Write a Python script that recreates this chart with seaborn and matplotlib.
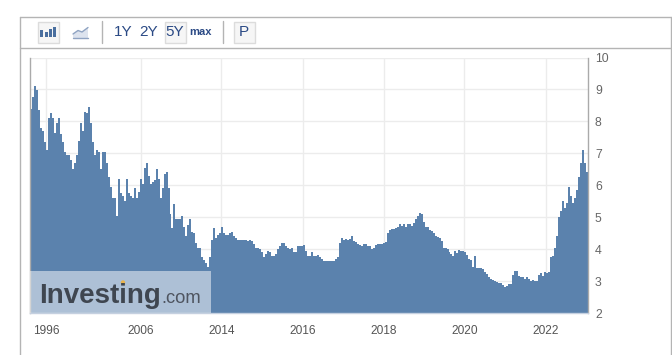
import matplotlib
matplotlib.use("Agg")
import matplotlib.pyplot as plt
import seaborn as sns
from matplotlib.patches import Rectangle, Circle, Polygon

############################################################
# DATA
############################################################
values = [
    8.4, 8.75, 9.1, 8.97, 8.35, 7.8, 7.7, 7.35, 7.1, 8.1,
    8.25, 8.1, 7.65, 7.95, 8.1, 7.6, 7.35, 7.05, 6.95, 6.95,
    6.8, 6.5, 6.7, 6.95, 7.4, 7.95, 7.7, 8.3, 8.25, 8.45,
    7.95, 7.35, 6.95, 7.1, 7.05, 6.5, 7.05, 7.05, 6.7, 6.25,
    5.95, 5.6, 5.6, 5.05, 6.2, 5.75, 5.65, 5.5, 6.2, 5.75,
    5.65, 5.6, 5.9, 5.6, 5.8, 6.2, 6.05, 6.55, 6.7, 6.3,
    6.05, 6.1, 6.15, 6.5, 6.2, 5.6, 5.9, 6.35, 6.4, 5.9,
    5.1, 4.65, 5.4, 4.95, 4.95, 4.95, 5.05, 4.7, 4.4, 4.75,
    4.95, 4.55, 4.5, 4.2, 4.05, 4.05, 3.75, 3.65, 3.55, 3.45,
    3.75, 4.3, 4.65, 4.35, 4.45, 4.5, 4.7, 4.5, 4.45, 4.45,
    4.5, 4.55, 4.4, 4.35, 4.3, 4.3, 4.28, 4.28, 4.28, 4.25,
    4.3, 4.25, 4.15, 4.05, 4.05, 4.0, 3.9, 3.75, 3.85, 3.95,
    3.9, 3.8, 3.78, 3.85, 4.0, 4.1, 4.2, 4.2, 4.1, 4.05,
    4.0, 4.05, 3.9, 3.9, 4.1, 4.1, 4.1, 4.12, 3.95, 3.8,
    3.78, 3.9, 3.78, 3.78, 3.82, 3.75, 3.7, 3.63, 3.62, 3.62,
    3.62, 3.62, 3.62, 3.68, 3.75, 4.18, 4.35, 4.3, 4.33, 4.28,
    4.33, 4.4, 4.25, 4.22, 4.15, 4.12, 4.1, 4.15, 4.15, 4.1,
    4.1, 4.0, 4.05, 4.12, 4.15, 4.15, 4.15, 4.18, 4.22, 4.5,
    4.6, 4.62, 4.62, 4.65, 4.7, 4.78, 4.72, 4.78, 4.7, 4.8,
    4.78, 4.72, 4.82, 4.95, 5.05, 5.12, 5.1, 4.85, 4.7, 4.68,
    4.6, 4.58, 4.5, 4.4, 4.38, 4.35, 4.25, 4.05, 4.02, 4.0,
    3.9, 3.85, 3.8, 3.95, 3.88, 3.98, 3.95, 3.93, 3.9, 3.82,
    3.7, 3.65, 3.45, 3.78, 3.42, 3.4, 3.4, 3.37, 3.27, 3.23,
    3.12, 3.07, 3.03, 3.0, 2.98, 2.95, 2.93, 2.88, 2.8, 2.85,
    2.9, 2.92, 3.18, 3.3, 3.3, 3.15, 3.12, 3.14, 3.08, 3.14,
    3.05, 2.99, 3.02, 3.0, 3.0, 3.18, 3.25, 3.15, 3.28, 3.25,
    3.28, 3.75, 3.8, 4.05, 4.4, 5.0, 5.2, 5.5, 5.3, 5.45,
    5.95, 5.65, 5.45, 5.6, 5.85, 6.25, 6.7, 7.1, 6.7, 6.4,
]
bar_idx = list(range(len(values)))

year_labels = ["1996", "2006", "2014", "2016", "2018", "2020", "2022"]
year_idx = [7.5, 55, 95.5, 136.5, 177, 217.5, 258.5]
y_ticks = [2, 3, 4, 5, 6, 7, 8, 9, 10]
range_labels = ["1Y", "2Y", "5Y"]

############################################################
# STYLE
############################################################
sns.set_style("white")
plt.rcParams["font.family"] = ["Liberation Sans", "DejaVu Sans"]

W, H = 672, 355
BAR = "#5b82ad"
GRID = "#ececec"
EDGE = "#b4b4b4"
BTN = "#2b4a85"

fig = plt.figure(figsize=(W / 100, H / 100), dpi=100)
ax = fig.add_axes([30 / W, 1 - 313 / H, 558 / W, 255.5 / H])

############################################################
# BARS
############################################################
sns.barplot(x=bar_idx, y=values, color=BAR, saturation=1, width=1, linewidth=0, ax=ax)

ax.set_xlim(-0.5, len(values) - 0.5)
ax.set_ylim(2, 10)
ax.set_axisbelow(True)
ax.grid(True, color=GRID, linewidth=1)

ax.set_xticks(year_idx)
ax.set_xticklabels(year_labels)
ax.set_yticks(y_ticks)
ax.yaxis.tick_right()
ax.tick_params(axis="x", length=0, pad=9, labelsize=8.6, labelcolor="#555555")
ax.tick_params(axis="y", length=0, pad=5, labelsize=8.8, labelcolor="#666666")

for side in ["left", "right"]:
    ax.spines[side].set_color("#aaaaaa")
    ax.spines[side].set_linewidth(1)
ax.spines["top"].set_visible(False)
ax.spines["bottom"].set_color("#c5d0e0")
ax.spines["bottom"].set_linewidth(1)

############################################################
# PAGE FURNITURE (pixel coordinates)
############################################################
top = fig.add_axes([0, 0, 1, 1], zorder=5)
top.set_xlim(0, W)
top.set_ylim(H, 0)
top.axis("off")
top.patch.set_alpha(0)

# frame
top.plot([19.5, 19.5], [H, 16.5], color=EDGE, lw=1)
top.plot([19.5, 670.5], [16.5, 16.5], color=EDGE, lw=1)
top.plot([670.5, 670.5], [16.5, H], color=EDGE, lw=1)
top.plot([19.5, 670.5], [47.5, 47.5], color=EDGE, lw=1)
top.plot([101.5, 101.5], [21, 43], color=EDGE, lw=1)
top.plot([222.5, 222.5], [21, 43], color=EDGE, lw=1)

# buttons
for bx in [37.5, 164.5, 233.5]:
    top.add_patch(Rectangle((bx, 21.5), 21, 21, fc="#f6f6f6", ec="#dcdcdc", lw=1))

# bar icon
for bx, bh in [(40, 7), (44.5, 5), (48.5, 8), (52.5, 10)]:
    top.add_patch(Rectangle((bx, 37 - bh), 3, bh, fc="#4a6f9f", ec="none"))

# line icon
line_x = [73, 78, 82, 88]
line_y = [34, 30.5, 32, 27.5]
top.add_patch(Polygon(list(zip(line_x, line_y)) + [(88, 38), (73, 38)], fc="#dde3ee", ec="none"))
top.plot(line_x, line_y, color="#8fa3c2", lw=1)
top.plot([73, 88], [38, 38], color="#8fa3c2", lw=1)

for label, cx in zip(range_labels, [123, 149, 175]):
    top.text(cx, 32, label, color=BTN, fontsize=11, ha="center", va="center")
top.text(201, 32, "max", color=BTN, fontsize=8, fontweight="bold", ha="center", va="center")
top.text(243.5, 32, "P", color=BTN, fontsize=11, ha="center", va="center")

# watermark
top.add_patch(Rectangle((30, 271), 181, 42, fc="white", alpha=0.5, ec="none"))
top.text(39.5, 303, "Investing", color="#3f4650", fontsize=20, fontweight="bold",
         ha="left", va="baseline")
top.text(161.5, 303, ".com", color="#4f5560", fontsize=13.2, ha="left", va="baseline")
top.add_patch(Circle((123, 282.5), 2.2, fc="#e9b44c", ec="none"))

fig.savefig("out.png", dpi=100)
